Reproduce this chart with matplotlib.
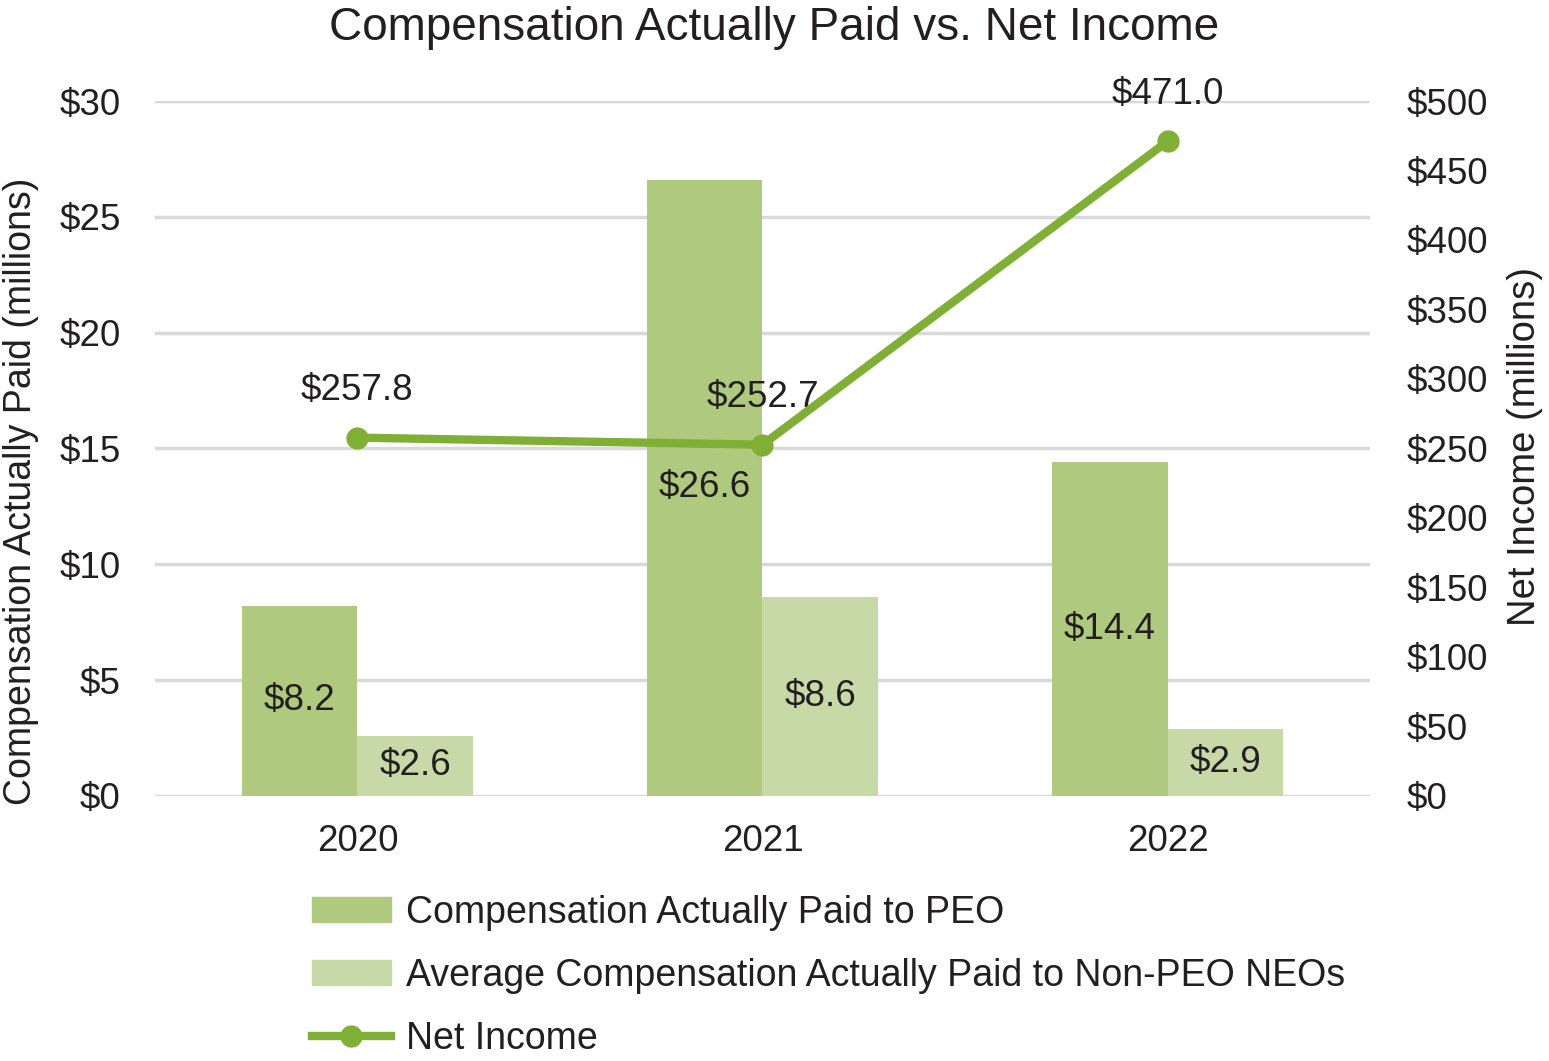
import numpy as np
import matplotlib
matplotlib.use("Agg")
import matplotlib.pyplot as plt
from matplotlib.lines import Line2D
from matplotlib.patches import Patch

years = ["2020", "2021", "2022"]
peo_cap = [8.2, 26.6, 14.4]
non_peo_cap = [2.6, 8.6, 2.9]
net_income = [257.8, 252.7, 471.0]

left_ticks = [0, 5, 10, 15, 20, 25, 30]
right_ticks = [0, 50, 100, 150, 200, 250, 300, 350, 400, 450, 500]

dark = "#AFC97E"
light = "#C7D9A6"
line_c = "#7FAF35"
grid_c = "#D9D9D9"
txt = "#231F20"

plt.rcParams['font.family'] = ['Liberation Sans', 'DejaVu Sans']
fs = 26.5

fig = plt.figure(figsize=(15.49, 10.61), dpi=100)
ax = fig.add_axes([0.100, 0.2498, 0.7845, 0.655])
ax2 = ax.twinx()

x = np.arange(len(years))
w = 0.286
b1 = ax.bar(x - w / 2, peo_cap, w, color=dark, zorder=2)
b2 = ax.bar(x + w / 2, non_peo_cap, w, color=light, zorder=2)

for bars, vals in [(b1, peo_cap), (b2, non_peo_cap)]:
    for r, v in zip(bars, vals):
        ax.text(r.get_x() + r.get_width() / 2, v / 2, f"${v:.1f}",
                ha="center", va="center", fontsize=fs, color=txt, zorder=5)

ax.set_xlim(-0.5, 2.5)
ax.set_ylim(0, 30)
ax.set_yticks(left_ticks)
ax.set_yticklabels([f"${t}" for t in left_ticks])
ax.set_xticks(x)
ax.set_xticklabels(years)
ax.grid(axis="y", color=grid_c, linewidth=2.5, zorder=0)
ax.set_axisbelow(True)
ax.tick_params(axis="both", length=0, labelsize=fs, colors=txt)
ax.tick_params(axis="x", pad=20)
ax.tick_params(axis="y", pad=24.5)
for s in ax.spines.values():
    s.set_visible(False)

ax2.plot(x, net_income, color=line_c, linewidth=6, marker="o", markersize=15, zorder=4)
for xi, v in zip(x, net_income):
    ax2.annotate(f"${v:.1f}", (xi, v), xytext=(0, 34), textcoords="offset points",
                 ha="center", va="center", fontsize=fs, color=txt)
ax2.set_ylim(0, 500)
ax2.set_yticks(right_ticks)
ax2.set_yticklabels([f"${t}" for t in right_ticks])
ax2.tick_params(axis="y", length=0, labelsize=fs, colors=txt, pad=26)
for s in ax2.spines.values():
    s.set_visible(False)

# axis titles placed on the figure (left one sits lower than the axes centre)
fig.text(0.0135, 0.537, "Compensation Actually Paid (millions)", rotation=90,
         ha="center", va="center", fontsize=27, color=txt)
fig.text(0.9845, 0.5796, "Net Income (millions)", rotation=90,
         ha="center", va="center", fontsize=27.5, color=txt)

fig.suptitle("Compensation Actually Paid vs. Net Income", fontsize=33, color=txt, y=0.994)

handles = [
    Patch(color=dark, label="Compensation Actually Paid to PEO"),
    Patch(color=light, label="Average Compensation Actually Paid to Non-PEO NEOs"),
    Line2D([0], [0], color=line_c, linewidth=6, marker="o", markersize=15, label="Net Income"),
]
fig.legend(handles=handles, loc="lower left", bbox_to_anchor=(0.1795, -0.028), frameon=False,
           fontsize=27, labelcolor=txt, handlelength=2.1, handleheight=0.65,
           labelspacing=0.72, handletextpad=0.4)

fig.savefig("out.png", dpi=100)
